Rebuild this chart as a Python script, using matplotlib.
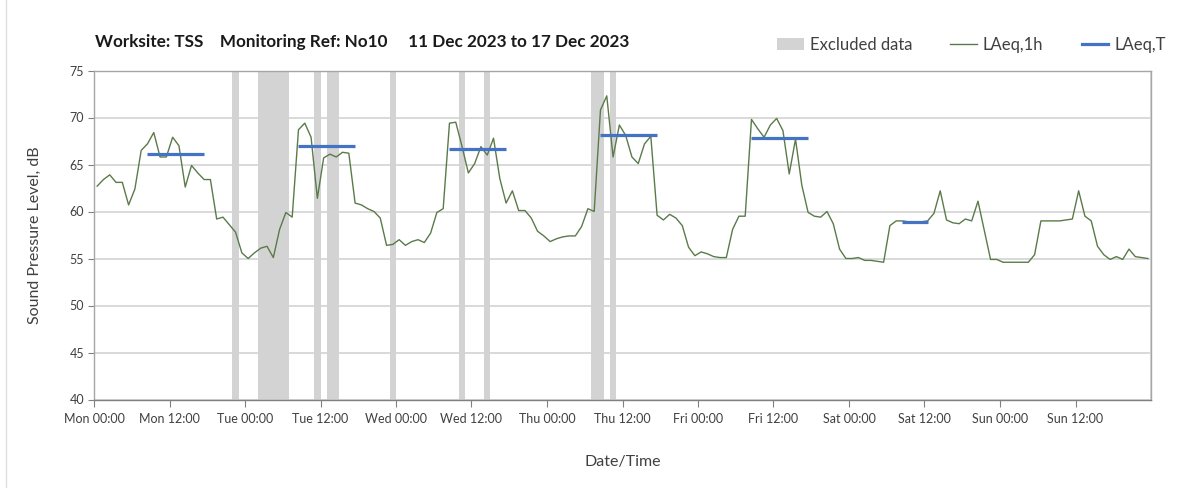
import numpy as np
import matplotlib
matplotlib.use("Agg")
import matplotlib.pyplot as plt
from matplotlib.patches import Patch
from matplotlib.lines import Line2D

plt.rcParams['font.family'] = ['Lato', 'DejaVu Sans']

# hourly LAeq,1h values, Mon 00:00 .. Sun 23:00
laeq_1h = [
    62.7, 63.4, 63.9, 63.1, 63.1, 60.7, 62.4, 66.5, 67.2, 68.4, 65.8, 65.8,
    67.9, 67.0, 62.6, 64.9, 64.1, 63.4, 63.4, 59.2, 59.4, 58.6, 57.8, 55.6,
    55.0, 55.6, 56.1, 56.3, 55.1, 58.1, 59.9, 59.4, 68.7, 69.4, 67.9, 61.4,
    65.7, 66.1, 65.8, 66.3, 66.2, 60.9, 60.7, 60.3, 60.0, 59.3, 56.4, 56.5,
    57.0, 56.4, 56.8, 57.0, 56.7, 57.7, 59.9, 60.3, 69.4, 69.5, 66.9, 64.1,
    65.1, 66.9, 66.0, 67.8, 63.5, 60.9, 62.2, 60.1, 60.1, 59.3, 57.9, 57.4,
    56.8, 57.1, 57.3, 57.4, 57.4, 58.4, 60.3, 60.0, 70.8, 72.3, 65.8, 69.2,
    68.1, 65.8, 65.1, 67.2, 68.0, 59.6, 59.1, 59.7, 59.3, 58.5, 56.2, 55.3,
    55.7, 55.5, 55.2, 55.1, 55.1, 58.1, 59.5, 59.5, 69.8, 68.8, 67.9, 69.2,
    69.9, 68.6, 64.0, 67.7, 62.8, 59.9, 59.5, 59.4, 60.0, 58.7, 56.0, 55.0,
    55.0, 55.1, 54.8, 54.8, 54.7, 54.6, 58.5, 59.0, 59.0, 58.9, 58.9, 58.9,
    59.0, 59.8, 62.2, 59.1, 58.8, 58.7, 59.2, 59.0, 61.1, 58.0, 54.9, 54.9,
    54.6, 54.6, 54.6, 54.6, 54.6, 55.4, 59.0, 59.0, 59.0, 59.0, 59.1, 59.2,
    62.2, 59.5, 59.0, 56.3, 55.4, 54.9, 55.2, 54.9, 56.0, 55.2, 55.1, 55.0,
]

# LAeq,T assessment periods (first and last hour index)
period_start = [8, 32, 56, 80, 104, 128]
period_end = [17, 41, 65, 89, 113, 132]
laeq_t = [66.1, 67.0, 66.7, 68.1, 67.8, 58.9]

# excluded data (start hour, duration in hours)
excl_start = [22, 26, 35, 37, 47, 58, 62, 79, 82]
excl_len = [1, 5, 1, 2, 1, 1, 1, 2, 1]

tick_labels = ['Mon 00:00', 'Mon 12:00', 'Tue 00:00', 'Tue 12:00', 'Wed 00:00',
               'Wed 12:00', 'Thu 00:00', 'Thu 12:00', 'Fri 00:00', 'Fri 12:00',
               'Sat 00:00', 'Sat 12:00', 'Sun 00:00', 'Sun 12:00']

green = '#5b7a4a'
blue = '#4472c4'
band = '#d3d3d3'
grid = '#d9d9d9'
txt = '#404040'

fig = plt.figure(figsize=(12.03, 4.88), dpi=100)
ax = fig.add_axes([94 / 1203, 88.5 / 488, 1057 / 1203, 329 / 488])

hours = np.arange(len(laeq_1h)) + 0.5

for s, d in zip(excl_start, excl_len):
    ax.axvspan(s, s + d, color=band, lw=0, zorder=1)

ax.plot(hours, laeq_1h, color=green, lw=1.0, zorder=3)

for s, e, v in zip(period_start, period_end, laeq_t):
    ax.plot([s + 0.5, e + 0.5], [v, v], color=blue, lw=2.3, zorder=4,
            solid_capstyle='butt')

ax.set_xlim(0, 168)
ax.set_ylim(40, 75)
ax.set_yticks(np.arange(40, 76, 5))
ax.set_xticks(np.arange(0, 168, 12))
ax.set_xticklabels(tick_labels)
ax.set_xticks(np.arange(0, 169, 24), minor=True)
ax.tick_params(axis='x', which='major', labelsize=9, colors='#808080',
               labelcolor=txt, length=5, pad=5)
ax.tick_params(axis='x', which='minor', length=0)
ax.tick_params(axis='y', labelsize=9, colors='#808080', labelcolor=txt,
               length=4, pad=3)

ax.yaxis.grid(True, color=grid, lw=1.4, zorder=0)
ax.xaxis.grid(True, which='minor', color=grid, lw=1.4, zorder=0)
ax.set_axisbelow(True)
for side in ['top', 'right', 'left', 'bottom']:
    ax.spines[side].set_color('#a6a6a6')
    ax.spines[side].set_linewidth(1.0)
ax.spines['bottom'].set_color('#808080')

ax.set_ylabel('Sound Pressure Level, dB', fontsize=11.5, color=txt, labelpad=20)
ax.set_xlabel('Date/Time', fontsize=11.5, color=txt, labelpad=21)

fig.text(95 / 1203, 1 - 42 / 488,
         'Worksite: TSS    Monitoring Ref: No10     11 Dec 2023 to 17 Dec 2023',
         fontsize=12.3, fontweight='bold', color='#1a1a1a', va='center')

handles = [Patch(facecolor=band, edgecolor='none'),
           Line2D([], [], color=green, lw=1.0),
           Line2D([], [], color=blue, lw=2.3)]
fig.legend(handles, ['Excluded data', 'LAeq,1h', 'LAeq,T'], ncol=3,
           loc='center left', bbox_to_anchor=(762 / 1203, 1 - 45 / 488),
           frameon=False, fontsize=12, handlelength=1.6, handletextpad=0.35,
           columnspacing=2.3, labelcolor=txt)

fig.add_artist(Line2D([6 / 1203, 6 / 1203], [0, 1], color='#e0e0e0', lw=1.0))

fig.savefig('out.png', dpi=100)
